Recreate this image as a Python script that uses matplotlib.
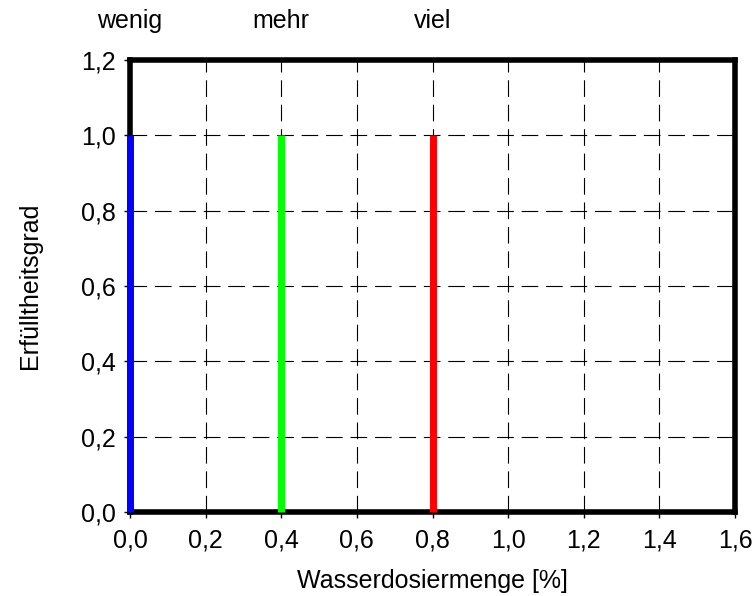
import matplotlib
matplotlib.use('Agg')
import matplotlib.pyplot as plt

plt.rcParams['font.family'] = ['Liberation Sans', 'DejaVu Sans']

# Daten
positions = [0.0, 0.4, 0.8]
heights = [1.0, 1.0, 1.0]
labels = ['wenig', 'mehr', 'viel']
colors = ['#0000ff', '#00ff00', '#ff0000']
x_ticks = [0.0, 0.2, 0.4, 0.6, 0.8, 1.0, 1.2, 1.4, 1.6]
y_ticks = [0.0, 0.2, 0.4, 0.6, 0.8, 1.0, 1.2]

fig = plt.figure(figsize=(7.54, 5.96), dpi=100)
ax = fig.add_axes([130 / 754, 1 - 512 / 596, 605 / 754, 452 / 596])

for x, h, c in zip(positions, heights, colors):
    ax.plot([x, x], [0, h], color=c, linewidth=5, solid_capstyle='butt',
            zorder=5, clip_on=False)

ax.set_xlim(0, 1.6)
ax.set_ylim(0, 1.2)
ax.set_xticks(x_ticks)
ax.set_yticks(y_ticks)
ax.set_xticklabels([f'{v:.1f}'.replace('.', ',') for v in x_ticks])
ax.set_yticklabels([f'{v:.1f}'.replace('.', ',') for v in y_ticks])
ax.tick_params(direction='out', length=4, width=1, labelsize=18)
ax.tick_params(axis='x', pad=8)
ax.tick_params(axis='y', pad=6)

ax.grid(True, color='black', linewidth=0.8, linestyle=(0, (15, 7)))
ax.set_axisbelow(True)
for s in ax.spines.values():
    s.set_linewidth(4)
    s.set_zorder(4)

ax.set_xlabel('Wasserdosiermenge [%]', fontsize=18, labelpad=12)
ax.set_ylabel('Erfülltheitsgrad', fontsize=18, labelpad=28)

# Beschriftung oben
for x, lab in zip(positions, labels):
    ax.text(x, 1.06, lab, transform=ax.get_xaxis_transform(), ha='center', va='bottom',
            fontsize=18)

fig.savefig('out.png', dpi=100)
